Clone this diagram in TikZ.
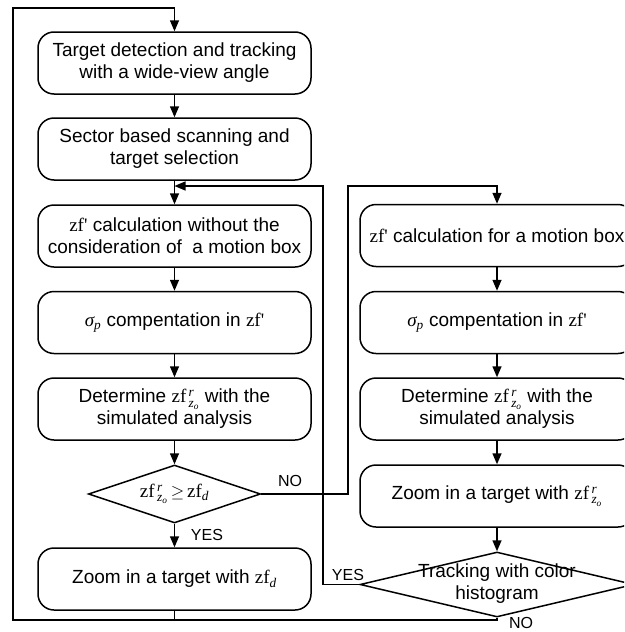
\documentclass[tikz,border=0pt]{standalone}
\usepackage{amsmath}
\usepackage{fontspec}
\setmainfont{Liberation Sans}
\newfontfamily\tms{Liberation Serif}
\usetikzlibrary{shapes.geometric,arrows.meta}
\newcommand{\zfp}{{\tms zf\textquotesingle}}
\newcommand{\zfr}{{\tms zf}$^{\,\text{\tms\itshape r}}_{\,\text{\tms\itshape z\textsubscript{o}}}$}
\newcommand{\zfd}{{\tms zf}$_{\text{\tms\itshape d}}$}
\newcommand{\sigp}{{\tms\itshape σ}$_{\text{\tms\itshape p}}$}
\tikzset{
  box/.style={draw, line width=1.5pt, rounded corners=16pt, minimum width=273pt, minimum height=62pt, inner sep=0pt, align=center, font=\fontsize{19}{22}\selectfont},
  dia/.style={draw, line width=1.5pt, diamond, inner sep=0pt},
  lbl/.style={font=\fontsize{16}{18}\selectfont, inner sep=0pt},
  txt/.style={font=\fontsize{19}{22}\selectfont, align=center, inner sep=0pt},
  arr/.style={line width=1.5pt, -{Triangle[length=11pt,width=9pt]}},
  ln/.style={line width=1.5pt}
}
\begin{document}
\begin{tikzpicture}[x=1pt,y=-1pt]
\useasboundingbox (0,0) rectangle (624,632);
\clip (0,0) rectangle (624,632);
% left column
\node[box] (b1) at (174.5,63) {Target detection and tracking\\with a wide-view angle};
\node[box] (b2) at (174.5,149) {Sector based scanning and\\target selection};
\node[box] (b3) at (174.5,236) {\zfp{} calculation without the\\consideration of \ a motion box};
\node[box] (b4) at (174.5,322.5) {\sigp{} compentation in \zfp};
\node[box] (b5) at (174.5,409) {Determine \zfr{} with the\\simulated analysis};
\node[dia, minimum width=172pt, minimum height=58pt] (d1) at (174.5,494) {};
\node[txt] (t1) at (174.5,494) {\zfr$\,\geq\,$\zfd};
\node[box] (b6) at (174.5,579) {Zoom in a target with \zfd};
% right column
\node[box, minimum width=274pt] (r1) at (497,235.5) {\zfp{} calculation for a motion box};
\node[box, minimum width=274pt] (r2) at (497,322.5) {\sigp{} compentation in \zfp};
\node[box, minimum width=274pt] (r3) at (497,409) {Determine \zfr{} with the\\simulated analysis};
\node[box, minimum width=274pt] (r4) at (497,496) {Zoom in a target with \zfr};
\node[dia, minimum width=274pt, minimum height=65pt] (d2) at (497,584.5) {};
\node[txt] (t2) at (497,584) {Tracking with color\\histogram};
% coordinates
\coordinate (n1) at (348,186);
\coordinate (y1) at (323,186);
\coordinate (c1) at (13,620);
\coordinate (c2) at (13,8);
% vertical arrows
\draw[arr] (b1) -- (b2);
\draw[arr] (b2) -- (b3);
\draw[arr] (b3) -- (b4);
\draw[arr] (b4) -- (b5);
\draw[arr] (b5) -- (d1);
\draw[arr] (d1) -- (b6);
\draw[arr] (r1) -- (r2);
\draw[arr] (r2) -- (r3);
\draw[arr] (r3) -- (r4);
\draw[arr] (r4) -- (d2);
% NO branch of d1
\draw[arr] (d1.east) -| (n1) -| (r1.north);
% YES branch of d2
\draw[arr] (d2.west) -| (y1) -- (b3.north |- y1);
% loop back
\draw[arr] (d2.south) |- (c1) -- (c2) -| (b1.north);
\draw[ln] (b6.south) -- (b6.south |- c1);
% labels
\node[lbl] (l1) at (290,481) {NO};
\node[lbl] (l2) at (207,535) {YES};
\node[lbl] (l3) at (348,575) {YES};
\node[lbl] (l4) at (521,623) {NO};
\end{tikzpicture}
\end{document}
